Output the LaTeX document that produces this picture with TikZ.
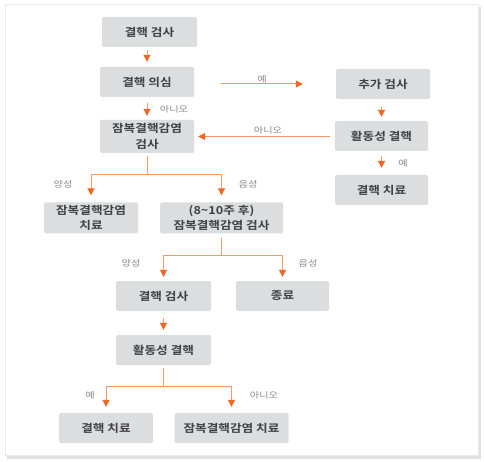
\documentclass[tikz,border=0pt]{standalone}
\usepackage{fontspec}
\setmainfont{Noto Sans CJK KR}
\newfontfamily\boxfont{Noto Sans CJK KR Bold}[FakeStretch=1.15]
\newfontfamily\lblfont{Noto Sans CJK KR}[FakeStretch=1.2]
\usetikzlibrary{arrows.meta}
\definecolor{boxgray}{HTML}{DCDDDF}
\definecolor{txtgray}{HTML}{404040}
\definecolor{lblgray}{HTML}{8A8A8A}
\definecolor{orhead}{HTML}{F26522}
\definecolor{orline}{HTML}{F79A63}

\begin{document}
\begin{tikzpicture}[x=1pt,y=-1pt,
    box/.style={rectangle,rounded corners=1.5pt,fill=boxgray,text=txtgray,font=\boxfont\fontsize{11}{15.5}\selectfont,align=center,inner sep=0pt},
    lbl/.style={text=lblgray,font=\lblfont\fontsize{8.5}{10}\selectfont,inner sep=0pt},
    arr/.style={draw=orline,line width=1pt,-{Triangle[width=7pt,length=7pt,color=orhead,fill=orhead]}},
    link/.style={draw=orline,line width=1pt}]

% frame
\fill[black!12] (7,7) rectangle (481,459);
\filldraw[fill=white,draw=black!8] (5,4) rectangle (478,455);
\useasboundingbox (0,0) rectangle (484,462);

% boxes
\node[box,minimum width=95pt,minimum height=30pt] (tb1) at (149.5,32) {결핵 검사};
\node[box,minimum width=94pt,minimum height=30pt] (susp) at (147,82) {결핵 의심};
\node[box,minimum width=94pt,minimum height=30pt] (more) at (383,84) {추가 검사};
\node[box,minimum width=94pt,minimum height=33pt] (lat) at (147,136.5) {잠복결핵감염\\검사};
\node[box,minimum width=93pt,minimum height=30pt] (act1) at (381.5,136) {활동성 결핵};
\node[box,minimum width=93pt,minimum height=30pt] (trt1) at (381.5,190) {결핵 치료};
\node[box,minimum width=94pt,minimum height=31pt] (ltbi1) at (91,218) {잠복결핵감염\\치료};
\node[box,minimum width=123pt,minimum height=31pt] (retest) at (221.5,218) {(8\textasciitilde10주 후)\\잠복결핵감염 검사};
\node[box,minimum width=95pt,minimum height=30pt] (tb2) at (163.5,296) {결핵 검사};
\node[box,minimum width=93pt,minimum height=30pt] (end) at (282.5,296) {종료};
\node[box,minimum width=95pt,minimum height=30pt] (act2) at (163.5,350) {활동성 결핵};
\node[box,minimum width=94pt,minimum height=30pt] (trt2) at (106,428) {결핵 치료};
\node[box,minimum width=114pt,minimum height=30pt] (ltbi2) at (231.5,428) {잠복결핵감염 치료};

% split points
\coordinate (s1) at (147,175);
\coordinate (s2) at (221.5,255);
\coordinate (s3) at (163.5,386);

% arrows
\draw[arr,shorten <=3pt,shorten >=5pt] (tb1.south -| susp) -- (susp.north);
\draw[arr,shorten <=27pt,shorten >=33pt] (susp.east |- more) -- (more.west);
\draw[arr,shorten <=6pt,shorten >=4pt] (susp.south) -- (lat.north);
\draw[arr,shorten <=5pt,shorten >=4pt] (act1.west |- lat) -- (lat.east);
\draw[arr,shorten <=8pt,shorten >=4pt] (more.south -| act1) -- (act1.north);
\draw[arr,shorten <=5pt,shorten >=7pt] (act1.south) -- (trt1.north);

\draw[link,shorten <=3pt] (lat.south) -- (s1);
\draw[arr,shorten >=7pt] (s1) -| (ltbi1.north);
\draw[arr,shorten >=7pt] (s1) -| (retest.north);

\draw[link,shorten <=4pt] (retest.south) -- (s2);
\draw[arr,shorten >=4pt] (s2) -| (tb2.north);
\draw[arr,shorten >=4pt] (s2) -| (end.north);

\draw[arr,shorten <=7pt,shorten >=5pt] (tb2.south) -- (act2.north);

\draw[link,shorten <=3pt] (act2.south) -- (s3);
\draw[arr,shorten >=6pt] (s3) -| (trt2.north);
\draw[arr,shorten >=6pt] (s3) -| (ltbi2.north);

% labels
\node[lbl] (l1) at (262,79) {예};
\node[lbl] (l2) at (174,109) {아니오};
\node[lbl] (l3) at (268,130) {아니오};
\node[lbl] (l4) at (403,163) {예};
\node[lbl] (l5) at (63,184) {양성};
\node[lbl] (l6) at (248,184) {음성};
\node[lbl] (l7) at (131,263) {양성};
\node[lbl] (l8) at (308,263) {음성};
\node[lbl] (l9) at (90,395) {예};
\node[lbl] (l10) at (264,395) {아니오};
\end{tikzpicture}
\end{document}
